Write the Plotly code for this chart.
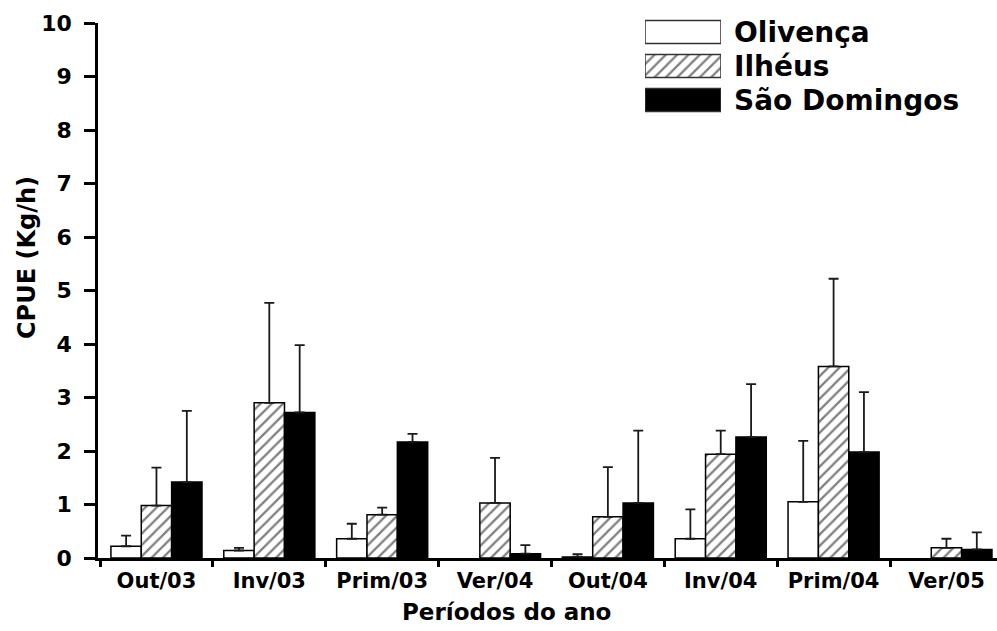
import plotly.graph_objects as go

# Sampling periods
periods = ["Out/03", "Inv/03", "Prim/03", "Ver/04", "Out/04", "Inv/04", "Prim/04", "Ver/05"]

# Mean CPUE (kg/h) per site and period
olivenca = [0.22, 0.14, 0.36, None, 0.02, 0.36, 1.05, None]
ilheus = [0.98, 2.90, 0.81, 1.03, 0.77, 1.94, 3.58, 0.19]
sao_domingos = [1.42, 2.72, 2.17, 0.08, 1.03, 2.26, 1.98, 0.16]

# Standard deviations (upper error bars only)
olivenca_sd = [0.20, 0.05, 0.28, None, 0.05, 0.55, 1.14, None]
ilheus_sd = [0.71, 1.87, 0.13, 0.84, 0.93, 0.44, 1.64, 0.17]
sao_domingos_sd = [1.33, 1.26, 0.15, 0.16, 1.35, 0.99, 1.12, 0.32]

site_names = ["Olivença", "Ilhéus", "São Domingos"]

FONT = "DejaVu Sans"
W, H = 997, 631
ML, MR, MT, MB = 98, 0, 19, 73
PW, PH = W - ML - MR, H - MT - MB
PLOT_TOP = 23  # pixel row of the y = 10 gridline


def px_x(px):
    return (px - ML) / PW


def px_y(px):
    return (H - MB - px) / PH


styles = [
    dict(color="white", pattern=None),
    dict(color="white", pattern=dict(shape="/", fgcolor="black", bgcolor="white",
                                      size=8, solidity=0.28)),
    dict(color="black", pattern=None),
]

fig = go.Figure()

series = [(olivenca, olivenca_sd), (ilheus, ilheus_sd), (sao_domingos, sao_domingos_sd)]
for name, (vals, sd), st in zip(site_names, series, styles):
    marker = dict(color=st["color"], line=dict(color="black", width=1.5))
    if st["pattern"]:
        marker["pattern"] = st["pattern"]
    fig.add_trace(go.Bar(
        x=periods, y=vals, name=name, marker=marker, showlegend=False,
        error_y=dict(type="data", symmetric=False, array=sd,
                     arrayminus=[0 if s is not None else None for s in sd],
                     color="#1a1a1a", thickness=1.8, width=5),
    ))

# Legend drawn as swatch bars on a small overlay axis
legend_len = [1, 1, 1]
for i, (name, st) in enumerate(zip(site_names, styles)):
    marker = dict(color=st["color"], line=dict(color="#333333", width=1.5))
    if st["pattern"]:
        marker["pattern"] = st["pattern"]
    fig.add_trace(go.Bar(
        x=[legend_len[i]], y=[i], orientation="h", width=0.68,
        marker=marker, xaxis="x2", yaxis="y2", showlegend=False,
        hoverinfo="skip",
    ))
    fig.add_annotation(
        text=name, xref="paper", yref="y2", x=px_x(732), y=i,
        xanchor="left", yanchor="middle", showarrow=False,
        font=dict(family=FONT, size=28, color="black", weight="bold"),
    )

fig.add_annotation(
    text="CPUE (Kg/h)", xref="paper", yref="paper", x=px_x(27), y=px_y(258),
    textangle=-90, showarrow=False, xanchor="center", yanchor="middle",
    font=dict(family=FONT, size=24, color="black", weight="bold"),
)
fig.add_annotation(
    text="Períodos do ano", xref="paper", yref="paper", x=px_x(506), y=px_y(612),
    showarrow=False, xanchor="center", yanchor="middle",
    font=dict(family=FONT, size=23, color="black", weight="bold"),
)

# Legend overlay spans pixel rows 19..126; centres of rows at 32, 67.5, 100
leg_top, leg_bot = MT, 126
leg_h = leg_bot - leg_top
step = (100 - 32) / 2
span = leg_h / step
lo = -(32 - leg_top) / step
hi = lo + span

fig.update_layout(
    width=W, height=H,
    margin=dict(l=ML, r=MR, t=MT, b=MB, pad=0),
    paper_bgcolor="white", plot_bgcolor="white",
    barmode="group", bargap=0.193, bargroupgap=0,
    xaxis=dict(
        type="category", range=[-0.518, 7.448], tickson="boundaries",
        showline=True, linecolor="black", linewidth=2.5,
        ticks="outside", ticklen=6, tickwidth=2.5, tickcolor="black",
        showgrid=False, zeroline=False, ticklabelstandoff=2,
        tickfont=dict(family=FONT, size=21, color="black", weight="bold"),
    ),
    yaxis=dict(
        domain=[0, px_y(PLOT_TOP)],
        range=[0, 10], dtick=1, showline=True, linecolor="black", linewidth=2.5,
        ticks="outside", ticklen=11, tickwidth=2.5, tickcolor="black",
        showgrid=False, zeroline=False, ticklabelstandoff=8,
        tickfont=dict(family=FONT, size=22, color="black", weight="bold"),
    ),
    xaxis2=dict(domain=[px_x(645), px_x(721)], range=[0, 1], visible=False,
                anchor="y2", fixedrange=True),
    yaxis2=dict(domain=[px_y(leg_bot), 1.0], range=[hi, lo], visible=False,
                anchor="x2", fixedrange=True),
)

fig.write_html("out.html")
